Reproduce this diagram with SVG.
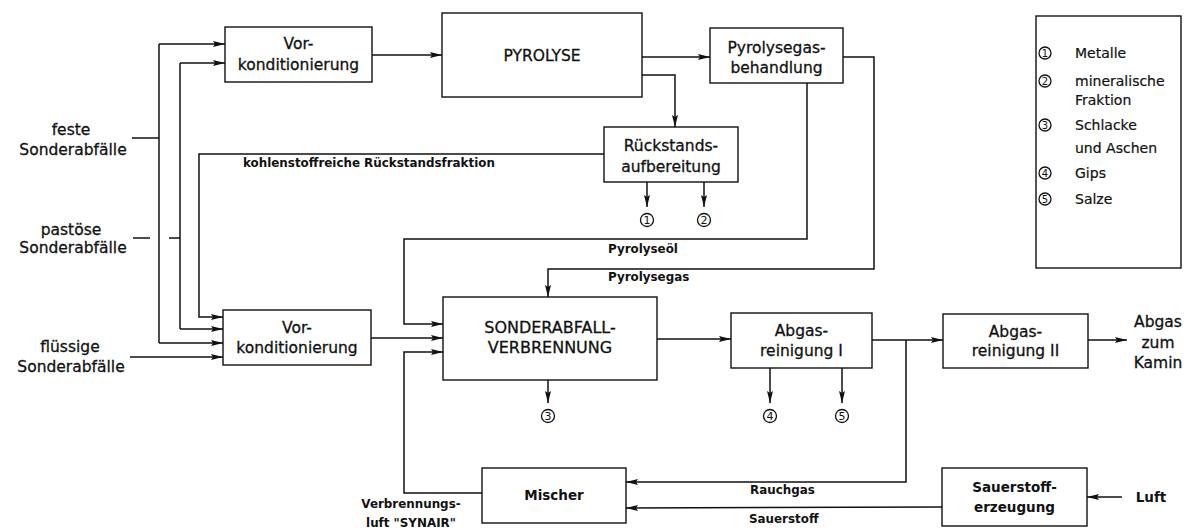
<svg xmlns="http://www.w3.org/2000/svg" width="1190" height="530" viewBox="0 0 1190 530">
<style>
.box{fill:#fff;stroke:#111;stroke-width:1.4}
.ln{fill:none;stroke:#111;stroke-width:1.5}
.arr{marker-end:url(#ah)}
.t{font-family:"DejaVu Sans","Liberation Sans",sans-serif;font-size:15.5px;fill:#111;stroke:#111;stroke-width:0.3;text-anchor:middle}
.tb{font-family:"DejaVu Sans","Liberation Sans",sans-serif;font-size:13.5px;font-weight:bold;fill:#111;text-anchor:middle}
.lb{font-family:"DejaVu Sans","Liberation Sans",sans-serif;font-size:11.9px;font-weight:bold;fill:#111}
.lg{font-family:"DejaVu Sans","Liberation Sans",sans-serif;font-size:14px;fill:#111;stroke:#111;stroke-width:0.2}
.c{fill:#fff;stroke:#111;stroke-width:1.3}
.cn{font-family:"DejaVu Sans","Liberation Sans",sans-serif;font-size:11px;fill:#111;text-anchor:middle}
</style>
<defs>
<marker id="ah" markerUnits="userSpaceOnUse" markerWidth="12" markerHeight="7" refX="12" refY="3.5" orient="auto">
<path d="M0,0.5 L12,3.5 L0,6.5 L2,3.5 z" fill="#111"/>
</marker>
</defs>
<rect width="1190" height="530" fill="#fff"/>

<g id="connectors">
<line class="ln" x1="132" y1="138" x2="159" y2="138"/>
<line class="ln" x1="159" y1="44" x2="159" y2="343"/>
<line class="ln arr" x1="159" y1="44" x2="225" y2="44"/>
<line class="ln arr" x1="159" y1="343" x2="223" y2="343"/>
<line class="ln" x1="180" y1="63" x2="180" y2="329"/>
<line class="ln arr" x1="180" y1="63" x2="225" y2="63"/>
<line class="ln arr" x1="180" y1="329" x2="223" y2="329"/>
<line class="ln" x1="133" y1="238" x2="150" y2="238"/>
<line class="ln" x1="169" y1="238" x2="180" y2="238"/>
<line class="ln arr" x1="130" y1="357" x2="223" y2="357"/>
<path class="ln arr" d="M604,154 H199 V317 H223"/>
<line class="ln arr" x1="372" y1="55" x2="442" y2="55"/>
<line class="ln arr" x1="642" y1="57" x2="710" y2="57"/>
<path class="ln arr" d="M642,75 H675 V127"/>
<line class="ln arr" x1="647" y1="182" x2="647" y2="207"/>
<line class="ln arr" x1="704" y1="182" x2="704" y2="207"/>
<path class="ln arr" d="M807,83 V239 H404 V324 H443"/>
<path class="ln arr" d="M843,57 H874 V269 H548 V297"/>
<line class="ln arr" x1="371" y1="338" x2="443" y2="338"/>
<path class="ln arr" d="M482,493 H404 V352 H443"/>
<line class="ln arr" x1="657" y1="339" x2="731" y2="339"/>
<line class="ln arr" x1="548" y1="380" x2="548" y2="403"/>
<line class="ln arr" x1="770" y1="368" x2="770" y2="403"/>
<line class="ln arr" x1="842" y1="368" x2="842" y2="403"/>
<line class="ln arr" x1="872" y1="340" x2="943" y2="340"/>
<path class="ln arr" d="M906,340 V482 H626"/>
<line class="ln arr" x1="1088" y1="340" x2="1127" y2="340"/>
<line class="ln arr" x1="942" y1="507" x2="626" y2="508"/>
<line class="ln arr" x1="1122" y1="497" x2="1087" y2="497"/>
<text class="lb" x="243" y="167">kohlenstoffreiche Rückstandsfraktion</text>
<text class="lb" x="608" y="253">Pyrolyseöl</text>
<text class="lb" x="608" y="281">Pyrolysegas</text>
<text class="lb" x="750" y="494">Rauchgas</text>
<text class="lb" x="749" y="523">Sauerstoff</text>
<text class="lb" x="411" y="508" text-anchor="middle">Verbrennungs-</text>
<text class="lb" x="411" y="527" text-anchor="middle">luft "SYNAIR"</text>
</g>

<g id="inputs">
<text class="t" x="71" y="135">feste</text>
<text class="t" x="73" y="155">Sonderabfälle</text>
<text class="t" x="71" y="235">pastöse</text>
<text class="t" x="73" y="253">Sonderabfälle</text>
<text class="t" x="70" y="352">flüssige</text>
<text class="t" x="71" y="372">Sonderabfälle</text>
</g>

<g id="vorkond1">
<rect class="box" x="225" y="27" width="147" height="55"/>
<text class="t" x="298.5" y="48.5">Vor-</text>
<text class="t" x="298.5" y="70">konditionierung</text>
</g>
<g id="pyrolyse">
<rect class="box" x="442" y="13" width="200" height="84"/>
<text class="t" x="542" y="60.5">PYROLYSE</text>
</g>
<g id="pyrolysegasbehandlung">
<rect class="box" x="710" y="28" width="133" height="55"/>
<text class="t" x="776.5" y="52.5">Pyrolysegas-</text>
<text class="t" x="776.5" y="72.5">behandlung</text>
</g>
<g id="rueckstand">
<rect class="box" x="604" y="127" width="134" height="55"/>
<text class="t" x="671" y="150.5">Rückstands-</text>
<text class="t" x="671" y="172">aufbereitung</text>
</g>
<g id="out1"><circle class="c" cx="647" cy="220" r="6.5"/><text class="cn" x="647" y="224">1</text></g>
<g id="out2"><circle class="c" cx="704" cy="220" r="6.5"/><text class="cn" x="704" y="224">2</text></g>
<g id="vorkond2">
<rect class="box" x="223" y="310" width="148" height="55"/>
<text class="t" x="297" y="332.5">Vor-</text>
<text class="t" x="297" y="352.5">konditionierung</text>
</g>
<g id="sonderabfallverbrennung">
<rect class="box" x="443" y="297" width="214" height="83"/>
<text class="t" x="550" y="333" style="font-size:16px">SONDERABFALL-</text>
<text class="t" x="550" y="353" style="font-size:16px">VERBRENNUNG</text>
</g>
<g id="out3"><circle class="c" cx="548" cy="416" r="6.5"/><text class="cn" x="548" y="420">3</text></g>
<g id="abgasreinigung1">
<rect class="box" x="731" y="313" width="141" height="55"/>
<text class="t" x="801.5" y="336">Abgas-</text>
<text class="t" x="801.5" y="356">reinigung I</text>
</g>
<g id="out4"><circle class="c" cx="770" cy="416" r="6.5"/><text class="cn" x="770" y="420">4</text></g>
<g id="out5"><circle class="c" cx="842" cy="416" r="6.5"/><text class="cn" x="842" y="420">5</text></g>
<g id="abgasreinigung2">
<rect class="box" x="943" y="314" width="145" height="54"/>
<text class="t" x="1015.5" y="337">Abgas-</text>
<text class="t" x="1015.5" y="356">reinigung II</text>
</g>
<g id="kamin">
<text class="t" x="1158" y="327">Abgas</text>
<text class="t" x="1158" y="348">zum</text>
<text class="t" x="1158" y="368">Kamin</text>
</g>
<g id="mischer">
<rect class="box" x="482" y="468" width="144" height="55"/>
<text class="tb" x="554" y="500">Mischer</text>
</g>
<g id="sauerstofferzeugung">
<rect class="box" x="942" y="468" width="145" height="58"/>
<text class="tb" x="1014.5" y="492">Sauerstoff-</text>
<text class="tb" x="1014.5" y="512">erzeugung</text>
</g>
<g id="luft">
<text class="tb" x="1151" y="502">Luft</text>
</g>
<g id="legend">
<rect class="box" x="1036" y="16" width="145" height="252"/>
<circle class="c" cx="1045" cy="53" r="6"/><text class="cn" x="1045" y="56.5" style="font-size:10px">1</text>
<text class="lg" x="1075" y="58">Metalle</text>
<circle class="c" cx="1045" cy="81" r="6"/><text class="cn" x="1045" y="84.5" style="font-size:10px">2</text>
<text class="lg" x="1075" y="86">mineralische</text>
<text class="lg" x="1075" y="105">Fraktion</text>
<circle class="c" cx="1045" cy="125" r="6"/><text class="cn" x="1045" y="128.5" style="font-size:10px">3</text>
<text class="lg" x="1075" y="130">Schlacke</text>
<text class="lg" x="1075" y="153">und Aschen</text>
<circle class="c" cx="1045" cy="173" r="6"/><text class="cn" x="1045" y="176.5" style="font-size:10px">4</text>
<text class="lg" x="1075" y="178">Gips</text>
<circle class="c" cx="1045" cy="199" r="6"/><text class="cn" x="1045" y="202.5" style="font-size:10px">5</text>
<text class="lg" x="1075" y="204">Salze</text>
</g>
</svg>
